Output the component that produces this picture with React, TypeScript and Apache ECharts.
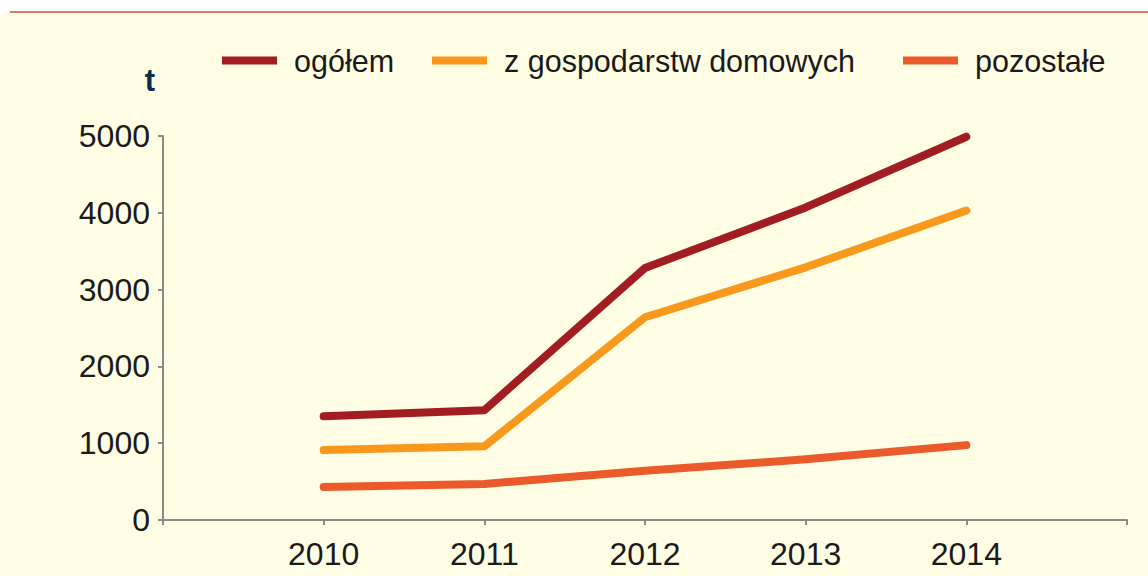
import React, { useEffect, useRef } from "react";
import * as echarts from "echarts";

const years = [2010, 2011, 2012, 2013, 2014];
const seriesNames = ["ogółem", "z gospodarstw domowych", "pozostałe"];
const ogolem = [1350, 1430, 3280, 4070, 4990];
const gospodarstwa = [910, 960, 2640, 3290, 4030];
const pozostale = [430, 470, 640, 790, 975];
const colors = ["#a11d22", "#f8981d", "#ea5a2a"];
const yTicks = [0, 1000, 2000, 3000, 4000, 5000];
const unitLabel = "t";
const legendLefts = [222, 432, 903];

export default function App() {
  const ref = useRef<HTMLDivElement>(null);
  useEffect(() => {
    document.body.style.margin = "0";
    const chart = echarts.init(ref.current!, null, { renderer: "svg" });
    const values = [ogolem, gospodarstwa, pozostale];
    const font = "'Liberation Sans', Arial, sans-serif";
    chart.setOption({
      animation: false,
      backgroundColor: "#ffffff",
      graphic: [
        {
          type: "rect",
          shape: { x: 0, y: 13, width: 1148, height: 563 },
          style: { fill: "#fffde3" },
          z: -10,
        },
        {
          type: "line",
          shape: { x1: 10, y1: 12, x2: 1148, y2: 12 },
          style: { stroke: "#d8796c", lineWidth: 2 },
        },
        {
          type: "text",
          x: 150,
          y: 80,
          style: {
            text: unitLabel,
            font: `bold 31px ${font}`,
            fill: "#0f2b4c",
            textAlign: "center",
            textVerticalAlign: "middle",
          },
        },
      ],
      legend: seriesNames.map((name, i) => ({
        left: legendLefts[i],
        top: 45,
        padding: 0,
        icon: "rect",
        itemWidth: 55,
        itemHeight: 8,
        data: [name],
        textStyle: {
          fontFamily: font,
          fontSize: 30.5,
          color: "#1a1a1a",
          padding: [0, 0, 0, 12],
        },
      })),
      grid: { left: 163, right: 21, top: 136, bottom: 56 },
      xAxis: {
        type: "value",
        min: 2009,
        max: 2015,
        interval: 1,
        splitLine: { show: false },
        axisLine: { lineStyle: { color: "#8a8a8a", width: 2 } },
        axisTick: { show: true, length: 5, lineStyle: { color: "#8a8a8a", width: 2 } },
        axisLabel: {
          margin: 18,
          fontFamily: font,
          fontSize: 32,
          color: "#1a1a1a",
          formatter: (v: number) => (years.includes(v) ? String(v) : ""),
        },
      },
      yAxis: {
        type: "value",
        min: yTicks[0],
        max: yTicks[yTicks.length - 1],
        interval: 1000,
        splitLine: { show: false },
        axisLine: { show: true, lineStyle: { color: "#8a8a8a", width: 2 } },
        axisTick: { show: true, length: 5, lineStyle: { color: "#8a8a8a", width: 2 } },
        axisLabel: {
          margin: 13,
          fontFamily: font,
          fontSize: 32,
          color: "#1a1a1a",
          formatter: (v: number) => String(v),
        },
      },
      series: seriesNames.map((name, i) => ({
        name,
        type: "line",
        data: years.map((y, j) => [y, values[i][j]]),
        showSymbol: false,
        symbol: "none",
        lineStyle: { color: colors[i], width: 8, cap: "round", join: "round" },
        itemStyle: { color: colors[i] },
      })),
    });
    return () => chart.dispose();
  }, []);
  return <div ref={ref} style={{ width: 1148, height: 576 }} />;
}
